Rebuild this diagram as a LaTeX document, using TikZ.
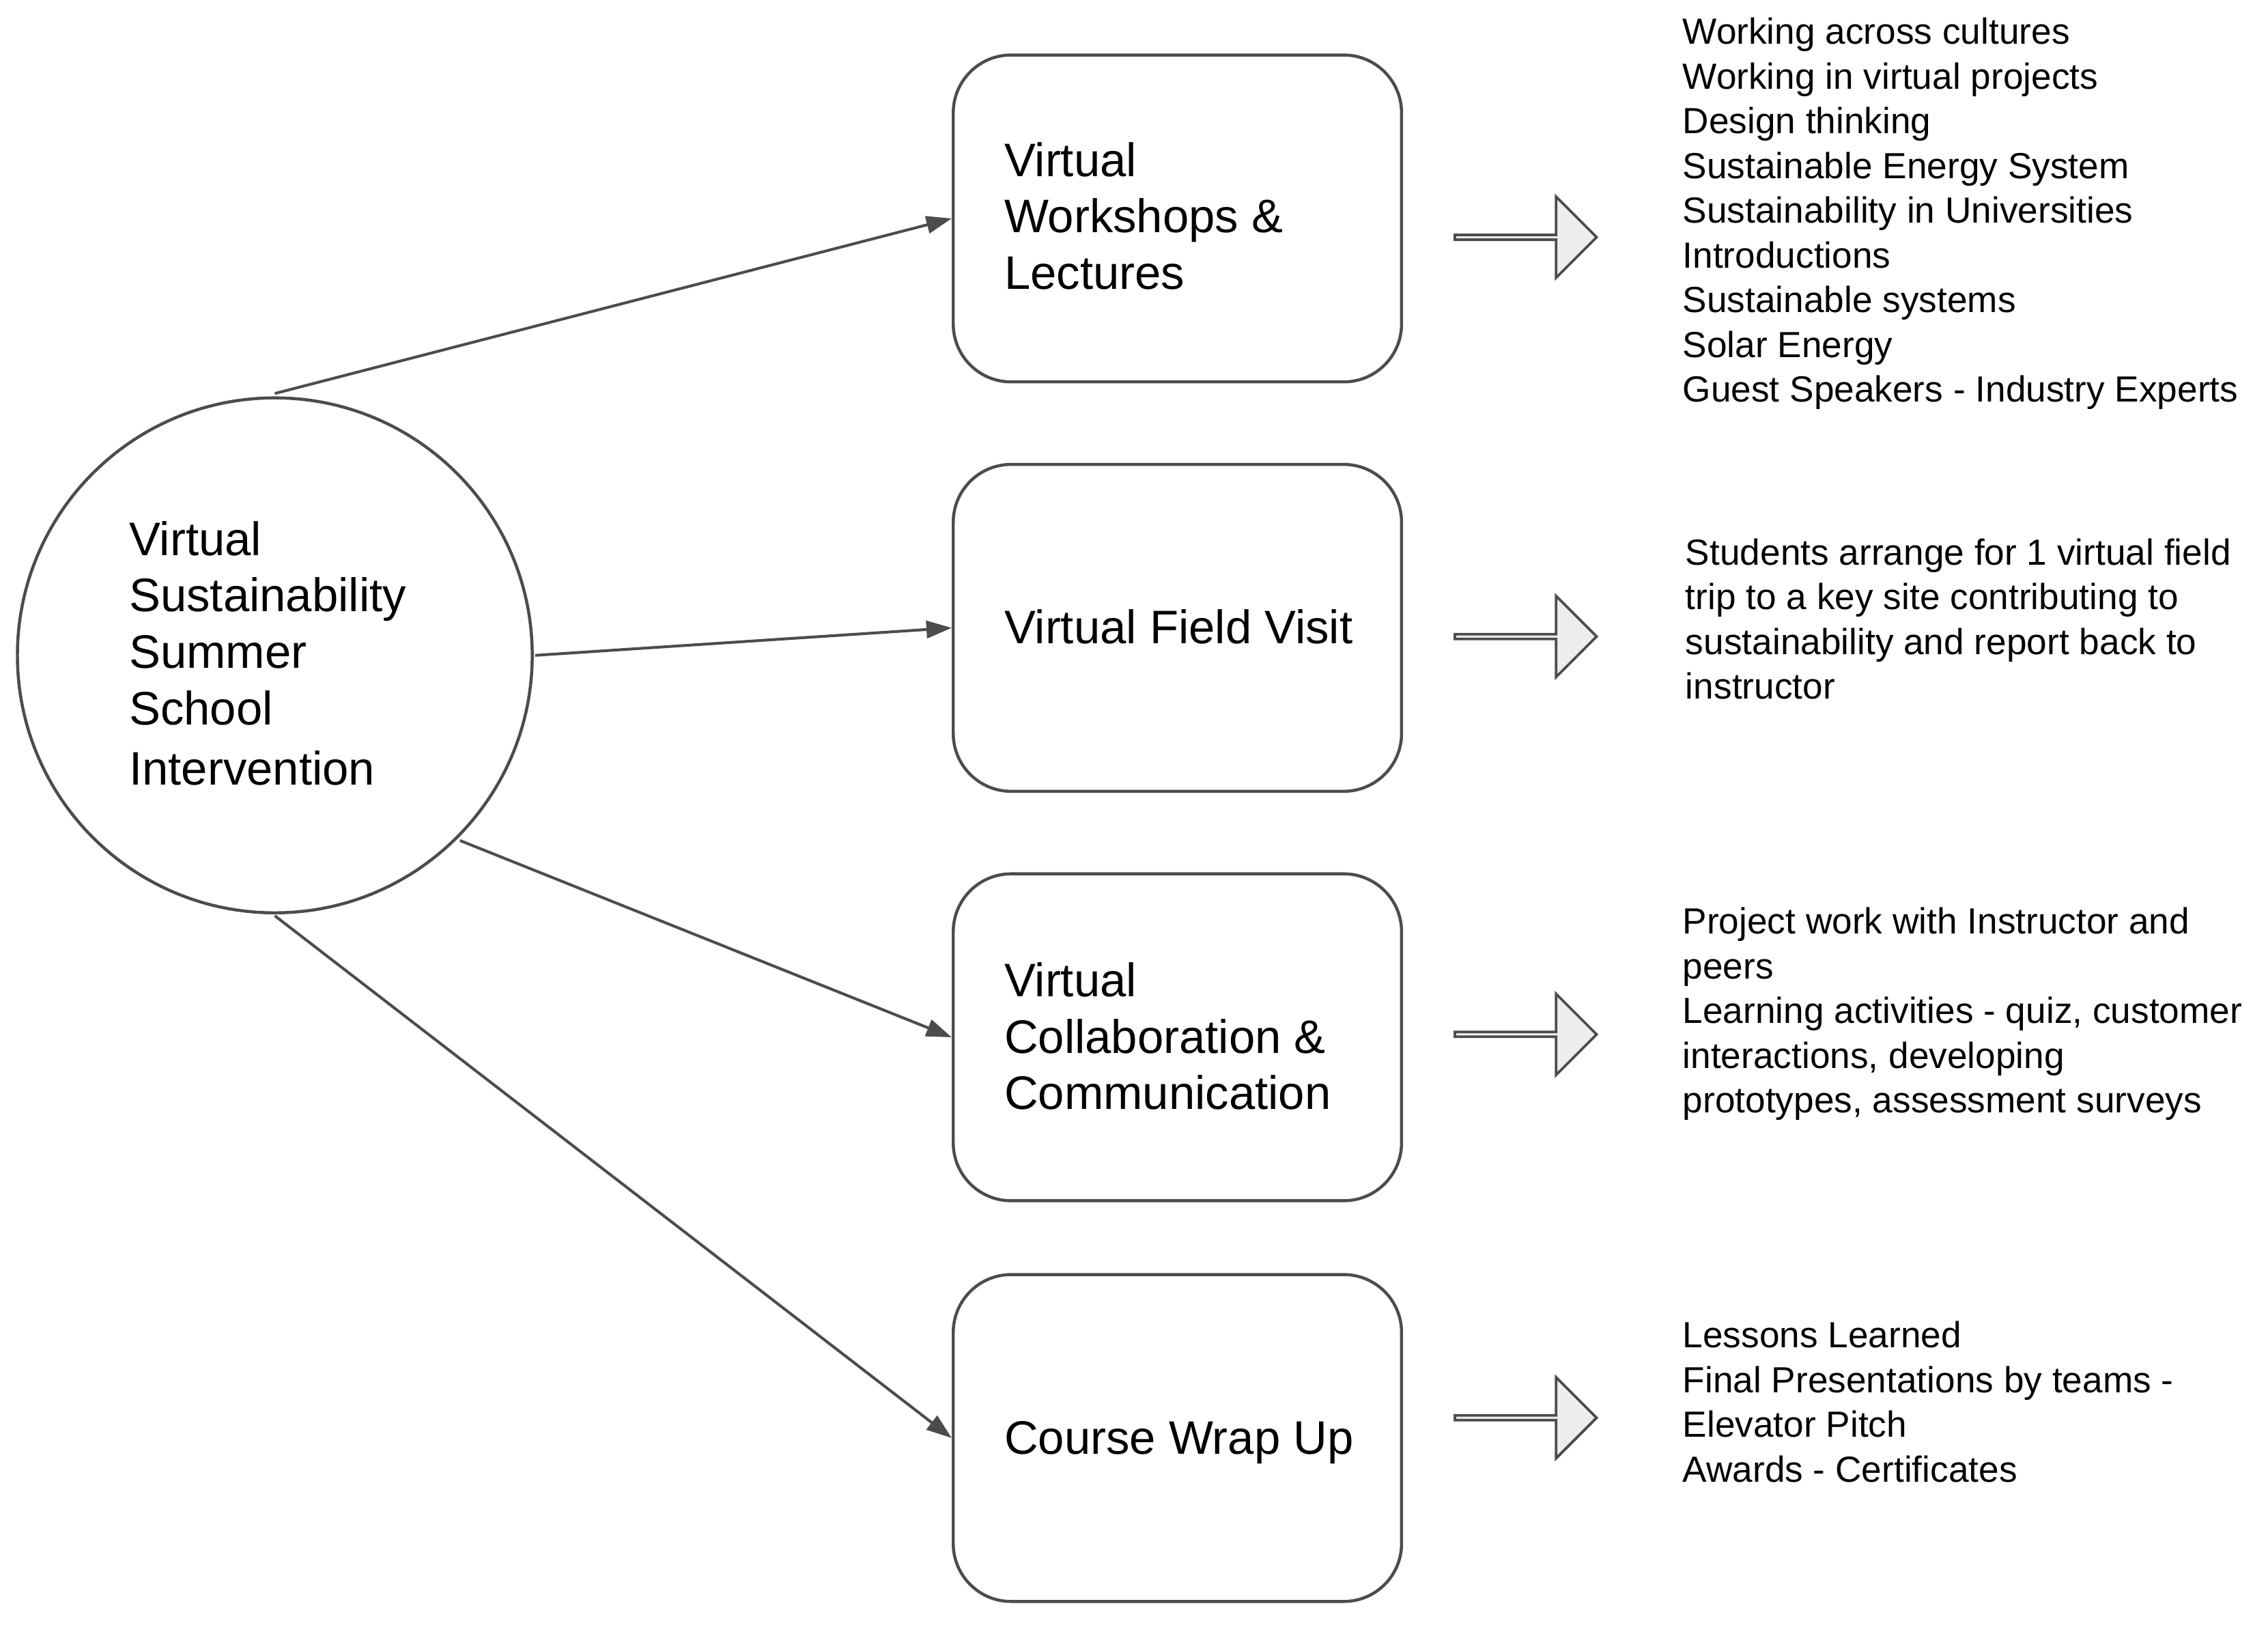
\documentclass[tikz,border=0pt]{standalone}
\usepackage{fontspec}
\setmainfont{Liberation Sans}
\usetikzlibrary{shapes.arrows,arrows.meta}
\begin{document}
\begin{tikzpicture}[x=0.02cm,y=-0.02cm,
  box/.style={draw=black!70,line width=1.2pt,rounded corners=0.8cm,minimum width=6.2cm,minimum height=4.52cm},
  con/.style={draw=black!70,line width=1.1pt,-{Triangle[length=0.35cm,width=0.24cm]}},
  big/.style={font=\fontsize{18.5}{22.2}\selectfont,align=left,inner sep=0,anchor=north west},
  lst/.style={font=\fontsize{14.3}{17.6}\selectfont,align=left,inner sep=0,anchor=north west},
  barrow/.style={single arrow,draw=black!70,fill=black!7,line width=1pt,minimum width=1.12cm,single arrow head extend=0.28cm,single arrow tip angle=90,minimum height=1.96cm,inner sep=0,anchor=center}]
\useasboundingbox (0,0) rectangle (1568,1128);
\node[circle,draw=black!70,line width=1.2pt,minimum size=7.12cm] (c) at (190,453) {};
\node[big] (ct) at (89,360) {Virtual\\Sustainability\\Summer\\School\\[0.05cm]Intervention};
\node[box] (b1) at (814,151) {};
\node[box] (b2) at (814,434) {};
\node[box] (b3) at (814,717) {};
\node[box] (b4) at (814,994) {};
\node[big] (t1) at (694,98) {Virtual\\Workshops \&\\Lectures};
\node[big] (t2) at (694,421) {Virtual Field Visit};
\node[big] (t3) at (694,665) {Virtual\\Collaboration \&\\Communication};
\node[big] (t4) at (694,982) {Course Wrap Up};
\coordinate (s1) at (190,272);
\coordinate (s2) at (370,453);
\coordinate (s3) at (318,581);
\coordinate (s4) at (190,633);
\draw[con] (s1) -- (b1.west);
\draw[con] (s2) -- (b2.west);
\draw[con] (s3) -- (b3.west);
\draw[con] (s4) -- (b4.west);
\node[barrow] (a1) at (1054,164) {};
\node[barrow] (a2) at (1054,440) {};
\node[barrow] (a3) at (1054,715) {};
\node[barrow] (a4) at (1054,980) {};
\node[lst] (l1) at (1163,12) {Working across cultures\\Working in virtual projects\\Design thinking\\Sustainable Energy System\\Sustainability in Universities\\Introductions\\Sustainable systems\\Solar Energy\\Guest Speakers - Industry Experts};
\node[lst] (l2) at (1165,372) {Students arrange for 1 virtual field\\trip to a key site contributing to\\sustainability and report back to\\instructor};
\node[lst] (l3) at (1163,627) {Project work with Instructor and\\peers\\Learning activities - quiz, customer\\interactions, developing\\prototypes, assessment surveys};
\node[lst] (l4) at (1163,913) {Lessons Learned\\Final Presentations by teams -\\Elevator Pitch\\Awards - Certificates};
\end{tikzpicture}
\end{document}
